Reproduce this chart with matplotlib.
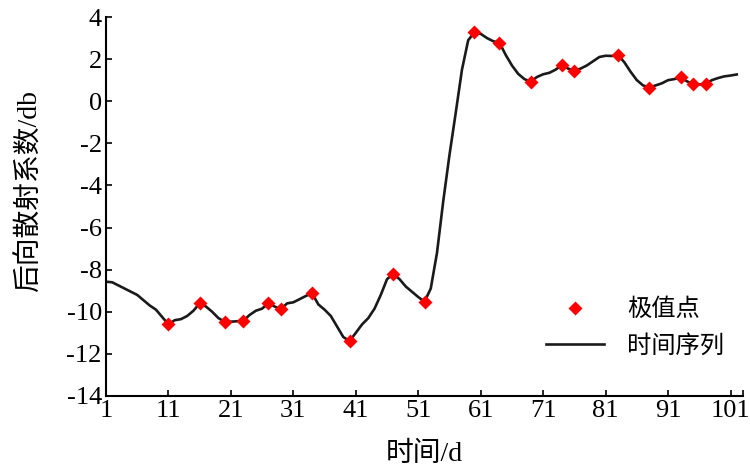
import numpy as np
import matplotlib
matplotlib.use("Agg")
import matplotlib.pyplot as plt

plt.rcParams['font.family'] = ['Liberation Serif', 'Noto Sans CJK SC', 'DejaVu Sans']
plt.rcParams['axes.unicode_minus'] = False

# 每日后向散射系数 (day 1..102)
days = np.arange(1, 103)
values = [
    -8.57, -8.60, -8.75, -8.90, -9.05, -9.20, -9.45, -9.70, -9.90, -10.25,
    -10.60, -10.40, -10.35, -10.20, -9.95, -9.60, -9.75, -10.00, -10.30, -10.47,
    -10.47, -10.45, -10.42, -10.15, -9.95, -9.85, -9.60, -9.75, -9.88, -9.60,
    -9.55, -9.40, -9.25, -9.12, -9.65, -9.90, -10.20, -10.70, -11.20, -11.39,
    -11.00, -10.60, -10.30, -9.85, -9.20, -8.45, -8.21, -8.45, -8.80, -9.05,
    -9.30, -9.52, -8.90, -7.20, -4.75, -2.55, -0.55, 1.50, 2.90, 3.27,
    3.20, 3.00, 2.85, 2.78, 2.20, 1.70, 1.30, 1.05, 0.93, 1.15,
    1.28, 1.35, 1.50, 1.72, 1.55, 1.45, 1.55, 1.70, 1.90, 2.10,
    2.16, 2.15, 2.19, 1.85, 1.40, 1.00, 0.75, 0.65, 0.75, 0.85,
    1.00, 1.05, 1.13, 0.95, 0.81, 0.80, 0.80, 1.00, 1.10, 1.18,
    1.22, 1.27,
]
values = np.array(values)

# 极值点所在的天
extreme_days = [11, 16, 20, 23, 27, 29, 34, 40, 47, 52, 60, 64, 69, 74, 76, 83, 88, 93, 95, 97]
extreme_vals = values[np.array(extreme_days) - 1]

xticks = list(range(1, 102, 10))
yticks = list(range(-14, 5, 2))

fig = plt.figure(figsize=(7.5, 4.76), dpi=100)
ax = fig.add_axes([106/750, 1-396/476, 637/750, 379/476])

ax.plot(days, values, color='#1a1a1a', lw=1.9, label='时间序列', zorder=2)
ax.plot(extreme_days, extreme_vals, 'D', color='#ff0000', ms=7, mec='none',
        ls='none', label='极值点', zorder=3)

ax.set_xlim(1, 103)
ax.set_ylim(-14, 4)
ax.set_xticks(xticks)
ax.set_xticks([103], minor=True)
ax.set_yticks(yticks)

for s in ['top', 'right']:
    ax.spines[s].set_visible(False)
for s in ['left', 'bottom']:
    ax.spines[s].set_linewidth(1.5)

ax.tick_params(axis='both', which='both', direction='in', length=4, width=1.2,
               labelsize=19, pad=3)

ax.set_xlabel('时间/d', fontsize=20, labelpad=14)
ax.set_ylabel('后向散射系数/db', fontsize=20)
ax.yaxis.set_label_coords(-0.10, 0.54)

h, l = ax.get_legend_handles_labels()
leg = ax.legend(h[::-1], l[::-1], loc='upper left', bbox_to_anchor=(0.69, 0.257),
                frameon=False, fontsize=17.5, handlelength=2.4, handletextpad=0.95,
                labelspacing=0.57, borderpad=0, borderaxespad=0)

fig.savefig('out.png', dpi=100)
